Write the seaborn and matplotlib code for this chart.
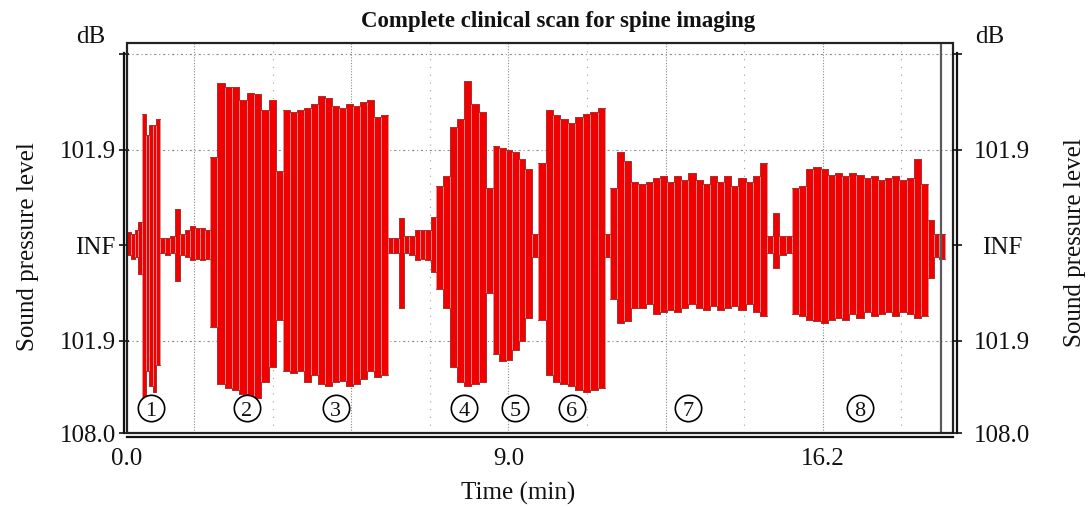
import numpy as np
import pandas as pd
import matplotlib
matplotlib.use("Agg")
import matplotlib.pyplot as plt
import seaborn as sns
from matplotlib.patches import Rectangle

# ---------------- text ----------------
title = "Complete clinical scan for spine imaging"
x_label = "Time (min)"
y_label = "Sound pressure level"
y_top_label = "dB"
y_tick_values = [1.0, 0.5, 0.0, -0.5, -0.985]
y_tick_labels = ["", "101.9", "INF", "101.9", "108.0"]
x_tick_values = [0.263, 1.8, 3.6, 5.4, 7.2, 9.0, 10.8, 12.6, 14.4, 16.2, 18.0]
x_tick_labels = ["0.0", "", "", "", "", "9.0", "", "", "", "16.2", ""]
x_grid_dense = [1.8, 5.4, 9.0, 12.6, 16.2]
x_grid_sparse = [3.6, 7.2, 10.8, 14.4, 18.0]
y_grid = [1.0, 0.5, -0.5]
end_marker = 18.90
label_level = -0.853

# ---------------- data ----------------
# boundaries of consecutive recording segments (minutes)
segment_edges = [0.26, 0.61, 1.02, 2.16, 3.84, 6.24, 7.34, 8.64, 9.68,
                 11.21, 11.32, 14.92, 15.49, 18.61, 19.00]
segment_kind = ["pause", "scan", "pause", "scan", "scan", "pause", "scan",
                "scan", "scan", "pause", "scan", "pause", "scan", "pause"]

# per-bar envelope (upper / lower excursion, normalised level axis)
lead_hi = [0.07, 0.06, 0.08, 0.12]
lead_lo = [-0.05, -0.07, -0.06, -0.15]
scan1_hi = [0.69, 0.58, 0.63, 0.63, 0.66]
scan1_lo = [-0.80, -0.66, -0.74, -0.77, -0.63]
pause1_hi = [0.04, 0.04, 0.05, 0.19, 0.06, 0.08, 0.10, 0.09, 0.09, 0.08]
pause1_lo = [-0.04, -0.05, -0.04, -0.19, -0.05, -0.06, -0.08, -0.07, -0.08, -0.07]
scan2_hi = [0.46, 0.85, 0.83, 0.83, 0.76, 0.80, 0.79, 0.71, 0.76, 0.39]
scan2_lo = [-0.43, -0.73, -0.75, -0.76, -0.78, -0.82, -0.80, -0.72, -0.64, -0.39]
scan3_hi = [0.71, 0.70, 0.71, 0.72, 0.74, 0.78, 0.77, 0.73, 0.72, 0.74,
            0.73, 0.75, 0.76, 0.67, 0.68]
scan3_lo = [-0.66, -0.67, -0.66, -0.72, -0.68, -0.73, -0.74, -0.72, -0.71, -0.74,
            -0.73, -0.70, -0.66, -0.69, -0.68]
pause2_hi = [0.04, 0.04, 0.14, 0.05, 0.05, 0.08, 0.08, 0.08, 0.15]
pause2_lo = [-0.04, -0.04, -0.33, -0.04, -0.05, -0.08, -0.07, -0.08, -0.14]
scan4_hi = [0.31, 0.36, 0.62, 0.66, 0.86, 0.74, 0.70, 0.30]
scan4_lo = [-0.23, -0.33, -0.64, -0.72, -0.74, -0.73, -0.72, -0.25]
scan5_hi = [0.52, 0.51, 0.50, 0.49, 0.45, 0.40, 0.06]
scan5_lo = [-0.57, -0.61, -0.60, -0.55, -0.50, -0.38, -0.06]
scan6_hi = [0.43, 0.71, 0.68, 0.66, 0.64, 0.67, 0.69, 0.70, 0.72]
scan6_lo = [-0.39, -0.68, -0.72, -0.73, -0.74, -0.76, -0.77, -0.76, -0.75]
pause3_hi = [0.06]
pause3_lo = [-0.06]
scan7_hi = [0.30, 0.49, 0.44, 0.33, 0.32, 0.33, 0.35, 0.36, 0.33, 0.36, 0.34,
            0.38, 0.34, 0.32, 0.36, 0.33, 0.36, 0.31, 0.35, 0.33, 0.36, 0.43]
scan7_lo = [-0.28, -0.41, -0.40, -0.33, -0.33, -0.31, -0.36, -0.35, -0.34, -0.35, -0.33,
            -0.31, -0.33, -0.34, -0.32, -0.34, -0.33, -0.32, -0.34, -0.31, -0.35, -0.37]
pause4_hi = [0.05, 0.17, 0.05, 0.05]
pause4_lo = [-0.04, -0.12, -0.05, -0.04]
scan8_hi = [0.30, 0.31, 0.40, 0.41, 0.40, 0.37, 0.38, 0.36, 0.38, 0.37,
            0.35, 0.36, 0.34, 0.35, 0.36, 0.34, 0.35, 0.45, 0.32]
scan8_lo = [-0.36, -0.37, -0.39, -0.40, -0.41, -0.39, -0.38, -0.39, -0.36, -0.38,
            -0.35, -0.37, -0.36, -0.35, -0.37, -0.35, -0.36, -0.38, -0.37]
tail_hi = [0.13, 0.06, 0.06]
tail_lo = [-0.17, -0.06, -0.07]

segment_hi = [lead_hi, scan1_hi, pause1_hi, scan2_hi, scan3_hi, pause2_hi, scan4_hi,
              scan5_hi, scan6_hi, pause3_hi, scan7_hi, pause4_hi, scan8_hi, tail_hi]
segment_lo = [lead_lo, scan1_lo, pause1_lo, scan2_lo, scan3_lo, pause2_lo, scan4_lo,
              scan5_lo, scan6_lo, pause3_lo, scan7_lo, pause4_lo, scan8_lo, tail_lo]

rows = []
for i, (hi, lo) in enumerate(zip(segment_hi, segment_lo)):
    e0, e1 = segment_edges[i], segment_edges[i + 1]
    w = (e1 - e0) / len(hi)
    for j, (h, l) in enumerate(zip(hi, lo)):
        rows.append(dict(seg=i, left=e0 + j * w, width=w, hi=h, lo=l))
bars = pd.DataFrame(rows)

env_rows = []
for i, (hi, lo) in enumerate(zip(segment_hi, segment_lo)):
    sub = bars[bars.seg == i]
    for _, r in sub.iterrows():
        env_rows.append(dict(seg=i, t=r.left, hi=r.hi, lo=r.lo))
    env_rows.append(dict(seg=i, t=segment_edges[i + 1], hi=hi[-1], lo=lo[-1]))
env = pd.DataFrame(env_rows)

scan_centres = [(segment_edges[i] + segment_edges[i + 1]) / 2
                for i, k in enumerate(segment_kind) if k == "scan"]
scan_labels = [str(n + 1) for n in range(len(scan_centres))]
markers = pd.DataFrame(dict(t=scan_centres, level=[label_level] * len(scan_centres)))

# ---------------- style ----------------
sns.set_theme(style="white")
plt.rcParams["font.family"] = ["Liberation Serif", "DejaVu Serif"]

W, H = 1088, 507
fig = plt.figure(figsize=(W / 100, H / 100), dpi=100)
ax = fig.add_axes([127 / W, 1 - 433 / H, (953 - 127) / W, (433 - 43) / H])
ax.set_xlim(0.263, 19.18)
ax.set_ylim(-0.985, 1.06)

# grid
for g in x_grid_dense:
    ax.axvline(g, color="#8a8a8a", lw=0.8, ls=(0, (1, 1.5)), zorder=0.5)
for g in x_grid_sparse:
    ax.axvline(g, color="#a0a0a0", lw=0.8, ls=(0, (1, 6)), zorder=0.5)
for g in y_grid:
    ax.axhline(g, color="#8a8a8a", lw=0.8, ls=(0, (2, 2.5, 1, 2.5)), zorder=0.5)

# waveform bars
ax.bar(bars["left"], bars["hi"] - bars["lo"], bottom=bars["lo"], width=bars["width"],
       align="edge", color="#f20000", edgecolor="#c99d9d", linewidth=0.6, zorder=2)
for i in env.seg.unique():
    sub = env[env.seg == i]
    sns.lineplot(data=sub, x="t", y="hi", ax=ax, color="#a83030", lw=0.7,
                 drawstyle="steps-post", estimator=None, zorder=2.2)
    sns.lineplot(data=sub, x="t", y="lo", ax=ax, color="#a83030", lw=0.7,
                 drawstyle="steps-post", estimator=None, zorder=2.2)

ax.axvline(end_marker, color="#5a5a5a", lw=1.6, zorder=2.5)

# circled scan numbers
sns.scatterplot(data=markers, x="t", y="level", ax=ax, marker="o", s=360,
                facecolor="white", edgecolor="black", linewidth=1.2, zorder=4,
                legend=False)
for cx, lab in zip(scan_centres, scan_labels):
    ax.annotate(lab, (cx, label_level), xytext=(0, -5.6), textcoords="offset points",
                ha="center", va="baseline", fontsize=16, zorder=4.5, color="#111111")
ax.set_xlabel("")
ax.set_ylabel("")

# frame
ax.add_patch(Rectangle((0, 0), 1, 1, transform=ax.transAxes, fill=False,
                       ec="#222222", lw=1.6, zorder=5, clip_on=False))
for s in ["top", "right"]:
    ax.spines[s].set_visible(False)
ax.spines["left"].set_position(("outward", 2.5))
ax.spines["bottom"].set_position(("outward", 3))
ax.spines["left"].set_bounds(-0.985, 1.01)
for s in ["left", "bottom"]:
    ax.spines[s].set_color("#111111")
    ax.spines[s].set_linewidth(1.6)

ax.set_yticks(y_tick_values, labels=y_tick_labels)
ax.set_xticks(x_tick_values, labels=x_tick_labels)
ax.tick_params(axis="y", direction="inout", length=7, width=1.2, pad=2,
               labelsize=18, colors="#111111")
ax.tick_params(axis="x", direction="out", length=4, width=1.0, pad=4,
               labelsize=18, colors="#111111")
ax.grid(False)

# right axis
ax2 = ax.twinx()
ax2.set_ylim(ax.get_ylim())
for s in ["top", "left", "bottom"]:
    ax2.spines[s].set_visible(False)
ax2.spines["right"].set_position(("outward", 3))
ax2.spines["right"].set_bounds(-0.985, 1.01)
ax2.spines["right"].set_color("#111111")
ax2.spines["right"].set_linewidth(1.6)
ax2.set_yticks(y_tick_values, labels=y_tick_labels)
ax2.tick_params(axis="y", direction="inout", length=7, width=1.2, pad=29,
                labelsize=18, colors="#111111")
for lab in ax2.get_yticklabels():
    lab.set_horizontalalignment("center")
ax2.grid(False)

# texts
fig.text(558 / W, 1 - 22 / H, title, ha="center", va="center", fontsize=16.5,
         fontweight="bold", color="#111111")
fig.text(91 / W, 1 - 37 / H, y_top_label, ha="center", va="center", fontsize=18, color="#111111")
fig.text(990 / W, 1 - 37 / H, y_top_label, ha="center", va="center", fontsize=18, color="#111111")
fig.text(28 / W, 1 - 247 / H, y_label, rotation=90, ha="center", va="center",
         fontsize=18, color="#111111")
fig.text(1075 / W, 1 - 243 / H, y_label, rotation=90, ha="center", va="center",
         fontsize=18, color="#111111")
fig.text(518 / W, 1 - 493 / H, x_label, ha="center", va="center", fontsize=18, color="#111111")

fig.savefig("out.png", dpi=100, facecolor="white")
